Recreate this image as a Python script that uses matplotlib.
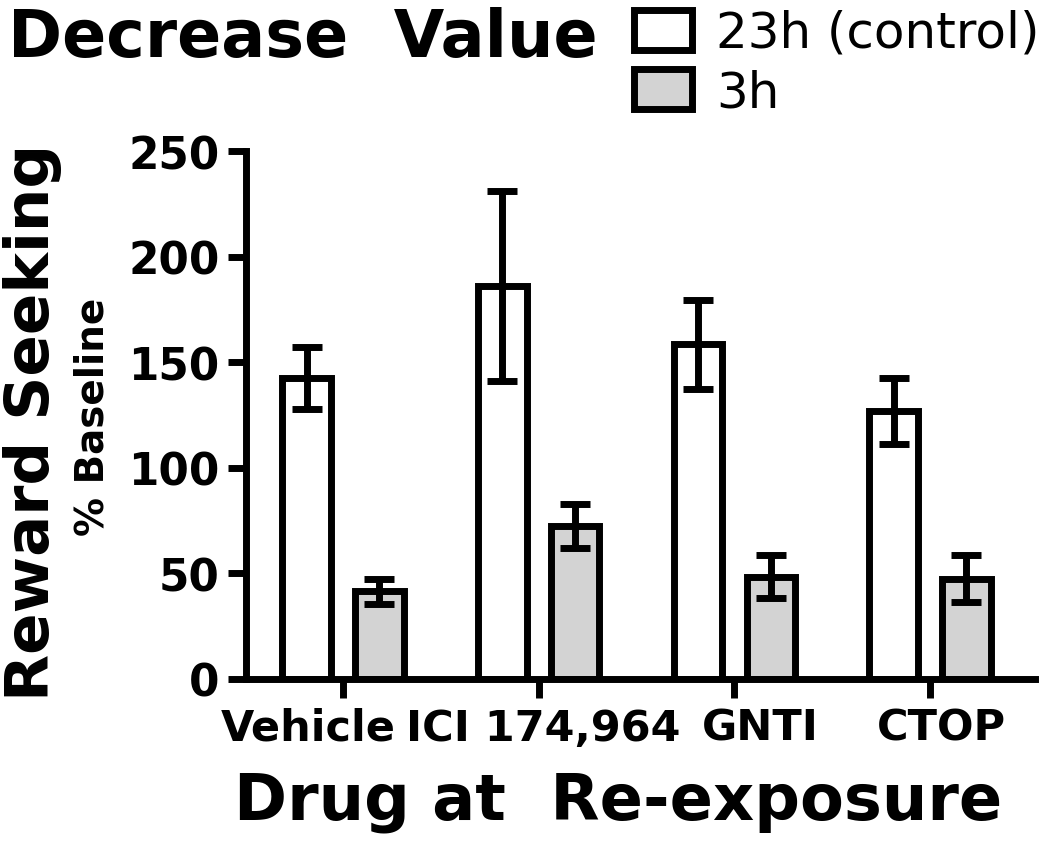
import matplotlib
matplotlib.use("Agg")
import matplotlib.pyplot as plt
import matplotlib.transforms as mtransforms
from matplotlib.patches import Patch
import numpy as np

# data
drugs = ["Vehicle", "ICI 174,964", "GNTI", "CTOP"]
control_23h = [142.5, 186, 158.5, 127]
control_23h_err = [14.5, 45, 21, 15.5]
short_3h = [41.5, 72.5, 48.5, 47.5]
short_3h_err = [6, 10.5, 10, 11]
y_ticks = [0, 50, 100, 150, 200, 250]

plt.rcParams["font.family"] = ["DejaVu Sans"]

LW = 5.0
fig = plt.figure(figsize=(10.5, 8.45), dpi=100)
ax = fig.add_axes([0.2343, 0.1953, 0.7514, 0.6248])

x = np.arange(len(drugs))
width = 0.248
off = 0.186

ax.bar(x - off, control_23h, width, color="white", edgecolor="black", linewidth=LW, zorder=2)
ax.bar(x + off, short_3h, width, color="#d3d3d3", edgecolor="black", linewidth=LW, zorder=2)
ax.errorbar(x - off, control_23h, yerr=control_23h_err, fmt="none", ecolor="black",
            elinewidth=LW, capsize=11, capthick=LW, zorder=3)
ax.errorbar(x + off, short_3h, yerr=short_3h_err, fmt="none", ecolor="black",
            elinewidth=LW, capsize=11, capthick=LW, zorder=3)

ax.set_xlim(-0.496, 3.536)
ax.set_ylim(0, 250)
for side in ["top", "right"]:
    ax.spines[side].set_visible(False)
for side in ["left", "bottom"]:
    ax.spines[side].set_linewidth(LW)

ax.set_yticks(y_ticks)
ax.set_yticklabels([str(v) for v in y_ticks], fontsize=31.5, fontweight="bold")
ax.tick_params(axis="y", length=13, width=LW, pad=6)
ax.set_xticks(x)
ax.set_xticklabels(drugs, fontsize=31, fontweight="bold")
ax.tick_params(axis="x", length=14, width=LW, pad=6)

# labels in the reference sit a little off their ticks
label_shift = [-25, 3.6, 18.7, 8]
for lab, dx in zip(ax.get_xticklabels(), label_shift):
    lab.set_transform(lab.get_transform() + mtransforms.ScaledTranslation(dx / 72, 0, fig.dpi_scale_trans))

fig.text(618 / 1050, 1 - 820 / 845, "Drug at  Re-exposure", fontsize=46, fontweight="bold",
         ha="center", va="baseline")

fig.text(33 / 1050, 1 - 422 / 845, "Reward Seeking", rotation=90, fontsize=44,
         fontweight="bold", ha="center", va="center")
fig.text(92 / 1050, 1 - 417 / 845, "% Baseline", rotation=90, fontsize=28,
         fontweight="bold", ha="center", va="center")

fig.text(8 / 1050, 1 - 57 / 845, "Decrease  Value", fontsize=47, fontweight="bold",
         ha="left", va="baseline")

handles = [Patch(facecolor="white", edgecolor="black", linewidth=LW, label="23h (control)"),
           Patch(facecolor="#d3d3d3", edgecolor="black", linewidth=LW, label="3h")]
fig.legend(handles=handles, loc="upper right", bbox_to_anchor=(1.0, 1.0), frameon=False,
           fontsize=36, handlelength=1.15, handleheight=0.85, handletextpad=0.5,
           labelspacing=0.22, borderaxespad=0.05, borderpad=0.15)

fig.savefig("out.png", dpi=100)
